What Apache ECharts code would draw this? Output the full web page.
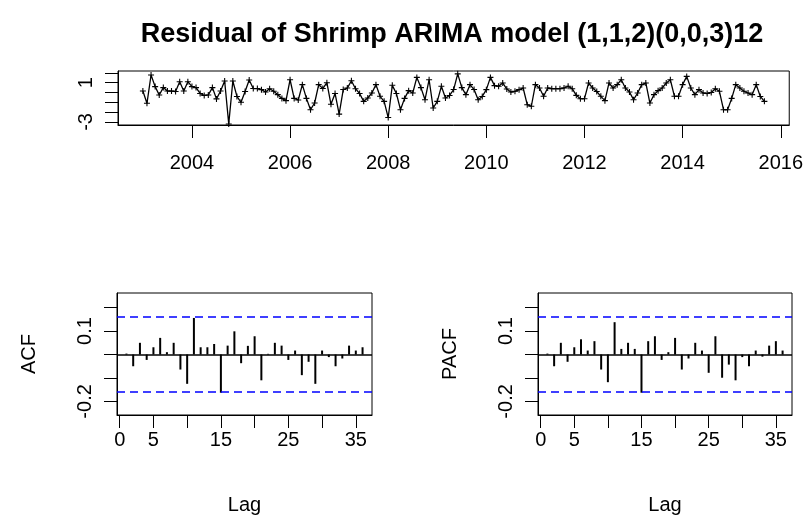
<!DOCTYPE html>
<html><head><meta charset="utf-8">
<script src="https://cdn.jsdelivr.net/npm/echarts@6/dist/echarts.min.js"></script>
<style>html,body{margin:0;padding:0;background:#fff}#c{width:806px;height:523px}</style>
</head><body><div id="c"></div>
<script>
// ---- data ----
const titleText = 'Residual of Shrimp ARIMA model (1,1,2)(0,0,3)12';
const startYear = 2003;   // monthly series, first obs Jan 2003
const residuals = [
  0.15, -1.1, 1.78, 0.6, -0.25, 0.5, 0.15, 0.15, 0.1, 1.1,
  0.15, 1.1, 0.6, 0.5, -0.1, -0.3, -0.25, 0.5, -0.65, 0.15,
  1.17, -3.2, 1.17, -0.4, -1.0, 0.1, 1.27, 0.4, 0.4, 0.29,
  0.05, 0.39, 0.12, -0.22, -0.6, -0.83, 1.3, -0.6, -0.76, 0.8,
  -0.6, -1.75, -1.07, 0.8, 0.4, 1.0, -1.2, -0.1, -2.2, 0.3,
  0.45, 1.2, 0.39, -0.1, -0.9, -0.56, -0.05, 0.8, -0.39, -0.9,
  -2.55, 0.73, -0.1, -1.75, -0.6, 0.19, -0.05, 1.54, 0.5, -0.73,
  1.3, -1.58, -0.9, 0.63, -0.56, -0.3, 0.3, 1.9, 0.5, -0.22,
  0.8, 0.3, -0.73, -0.4, 0.29, 1.54, 0.7, 0.63, 0.97, 0.35,
  0.05, 0.12, 0.29, 0.46, -1.24, -1.4, 0.8, 0.46, -0.39, 0.46,
  0.39, 0.39, 0.39, 0.46, 0.63, 0.39, -0.29, -0.63, -0.63, 0.97,
  0.46, 0.1, -0.39, -0.83, 0.97, 0.46, 0.8, 1.3, 0.46, 0.05,
  -0.73, -0.05, 0.8, 0.97, -1.07, -0.22, 0.19, 0.46, 0.97, 1.3,
  -0.39, -0.39, 0.8, 1.64, 0.46, -0.22, 0.29, -0.05, -0.1, 0.0,
  0.39, 0.12, -1.75, -1.75, -0.6, 0.8, 0.46, 0.12, -0.05, -0.22,
  0.8, -0.4, -0.9
];
const yearTicks = [2004, 2006, 2008, 2010, 2012, 2014, 2016];
const residTicks = [-3, -2, -1, 0, 1, 2];
const residLabels = [1, -3];

const lags = [1,2,3,4,5,6,7,8,9,10,11,12,13,14,15,16,17,18,19,20,21,22,23,24,25,26,27,28,29,30,31,32,33,34,35,36];
const acfValues = [
  0.004, -0.05, 0.05, -0.023, 0.031, 0.071, 0.01, 0.05, -0.064, -0.125,
  0.156, 0.031, 0.031, 0.045, -0.163, 0.038, 0.099, -0.037, 0.037, 0.078,
  -0.11, 0.003, 0.05, 0.038, -0.023, 0.017, -0.088, -0.031, -0.125, 0.017,
  -0.011, -0.05, -0.017, 0.038, 0.017, 0.031
];
const pacfValues = [
  0.004, -0.05, 0.05, -0.031, 0.031, 0.065, 0.017, 0.057, -0.064, -0.118,
  0.138, 0.024, 0.05, 0.024, -0.163, 0.057, 0.078, -0.023, 0.01, 0.071,
  -0.064, -0.017, 0.05, 0.017, -0.078, 0.078, -0.099, -0.043, -0.11, -0.011,
  -0.05, 0.017, -0.009, 0.038, 0.057, 0.017
];
const ciBound = 0.1585;
const lagTicks = [0, 5, 10, 15, 20, 25, 30, 35];
const lagLabels = [0, 5, 15, 25, 35];
const corrTicks = [-0.2, -0.1, 0, 0.1, 0.2];
const corrLabels = [0.1, -0.2];

// ---- chart ----
const FONT = 'Liberation Sans, Arial, sans-serif';
const FS = 20;
const chart = echarts.init(document.getElementById('c'), null, {renderer: 'canvas'});

const plusSymbol = 'path://M-0.18,-1H0.18V-0.18H1V0.18H0.18V1H-0.18V0.18H-1V-0.18H-0.18Z';
const plain = v => String(Math.round(v * 1000) / 1000);

function xAxisCfg(grid, min, max, ticks, labels, name, labelMargin) {
  return {
    gridIndex: grid, type: 'value', min: min, max: max,
    name: name || '', nameLocation: 'middle', nameGap: 80,
    nameTextStyle: {fontFamily: FONT, fontSize: FS, color: '#000'},
    axisLine: {show: true, onZero: false, lineStyle: {color: '#000', width: 1}},
    axisTick: {show: true, length: 13, customValues: ticks, lineStyle: {color: '#000', width: 1}},
    axisLabel: {customValues: labels, formatter: plain, margin: labelMargin, fontFamily: FONT, fontSize: FS, color: '#000'},
    splitLine: {show: false}
  };
}
function yAxisCfg(grid, min, max, ticks, labels, name) {
  return {
    gridIndex: grid, type: 'value', min: min, max: max,
    name: name || '', nameLocation: 'middle', nameGap: 78, nameRotate: 90,
    nameTextStyle: {fontFamily: FONT, fontSize: FS, color: '#000'},
    axisLine: {show: true, onZero: false, lineStyle: {color: '#000', width: 1}},
    axisTick: {show: true, length: 13, customValues: ticks, lineStyle: {color: '#000', width: 1}},
    axisLabel: {customValues: labels, formatter: plain, rotate: 90, margin: 22, fontFamily: FONT, fontSize: FS, color: '#000'},
    splitLine: {show: false}
  };
}
function refLines() {
  return {
    silent: true, symbol: ['none', 'none'], label: {show: false}, animation: false,
    data: [
      {yAxis: 0, lineStyle: {type: 'solid', color: '#000', width: 1.5}},
      {yAxis: ciBound, lineStyle: {type: [8, 5], color: '#0000ff', width: 1.5}},
      {yAxis: -ciBound, lineStyle: {type: [8, 5], color: '#0000ff', width: 1.5}}
    ]
  };
}

const option = {
  backgroundColor: '#fff',
  animation: false,
  title: {
    text: titleText, left: 447, top: 16, textAlign: 'center',
    textStyle: {fontFamily: FONT, fontSize: 27, fontWeight: 'bold', color: '#000'}
  },
  grid: [
    {left: 118, top: 71, width: 675, height: 54, show: true, borderColor: '#000', borderWidth: 1, backgroundColor: 'transparent'},
    {left: 117, top: 293, width: 255, height: 122, show: true, borderColor: '#000', borderWidth: 1, backgroundColor: 'transparent'},
    {left: 538, top: 293, width: 254, height: 122, show: true, borderColor: '#000', borderWidth: 1, backgroundColor: 'transparent'}
  ],
  xAxis: [
    xAxisCfg(0, 2002.493, 2016.173, yearTicks, yearTicks, '', 28),
    xAxisCfg(1, -0.4, 37.4, lagTicks, lagLabels, 'Lag', 15),
    xAxisCfg(2, -0.4, 37.4, lagTicks, lagLabels, 'Lag', 15)
  ],
  yAxis: [
    yAxisCfg(0, -3.31, 2.19, residTicks, residLabels, ''),
    yAxisCfg(1, -0.258, 0.2625, corrTicks, corrLabels, 'ACF'),
    yAxisCfg(2, -0.258, 0.2625, corrTicks, corrLabels, 'PACF')
  ],
  series: [
    {
      type: 'line', xAxisIndex: 0, yAxisIndex: 0,
      data: residuals.map((v, i) => [startYear + i / 12, v]),
      symbol: plusSymbol, symbolSize: 6, showAllSymbol: true,
      lineStyle: {color: '#000', width: 1.3}, itemStyle: {color: '#000'}
    },
    {
      type: 'bar', xAxisIndex: 1, yAxisIndex: 1, barWidth: 2,
      data: lags.map((l, i) => [l, acfValues[i]]),
      itemStyle: {color: '#000'}, markLine: refLines()
    },
    {
      type: 'bar', xAxisIndex: 2, yAxisIndex: 2, barWidth: 2,
      data: lags.map((l, i) => [l, pacfValues[i]]),
      itemStyle: {color: '#000'}, markLine: refLines()
    }
  ]
};
chart.setOption(option);
</script>
</body></html>
